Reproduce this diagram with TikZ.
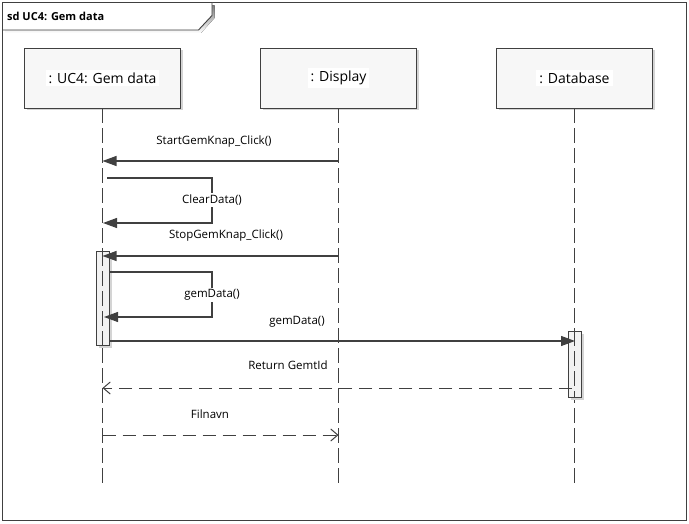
\documentclass[tikz,border=0pt]{standalone}
\usepackage{fontspec}
\setmainfont{Open Sans}
\usetikzlibrary{arrows.meta,shadows}
\definecolor{ink}{HTML}{404040}
\definecolor{shade}{HTML}{D4D4D4}
\tikzset{
  frameline/.style={draw=ink, line width=0.9pt},
  headbox/.style={draw=ink, line width=0.8pt, fill=black!3, minimum width=156pt, minimum height=60pt,
    inner sep=0pt, font=\fontsize{14}{16}\selectfont,
    drop shadow={shadow xshift=2.5pt, shadow yshift=-2.5pt, fill=shade, opacity=1}},
  lifeline/.style={draw=black!75, line width=0.7pt, dash pattern=on 15pt off 5pt},
  actbox/.style={draw=ink, line width=0.8pt, fill=black!5, minimum width=13pt, inner sep=0pt,
    drop shadow={shadow xshift=2.5pt, shadow yshift=-2.5pt, fill=shade, opacity=1}},
  callmsg/.style={draw=ink, line width=1.2pt, -{Triangle[length=14pt,width=10pt]}},
  retmsg/.style={draw=ink, line width=1pt, dash pattern=on 13pt off 7pt, -{Straight Barb[length=7pt,width=12pt]}},
  msglabel/.style={font=\fontsize{11.5}{13}\selectfont, inner sep=1pt},
  selflabel/.style={font=\fontsize{11.5}{13}\selectfont, fill=white, inner sep=1.5pt},
}
\begin{document}
\begin{tikzpicture}[x=1pt,y=-1pt]
\useasboundingbox (0,0) rectangle (689,524);
\fill[white] (0,0) rectangle (689,524);

% outer frame and its name tab
\draw[frameline] (2.5,2.5) rectangle (686,520);
\fill[shade] (5.5,5.5) -- (214.5,5.5) -- (214.5,18) -- (201,33) -- (5.5,33) -- cycle;
\draw[frameline, fill=white] (2.5,2.5) -- (212,2.5) -- (212,15.5) -- (198.5,30) -- (2.5,30) -- cycle;
\node[anchor=west, font=\bfseries\fontsize{11}{13}\selectfont, inner sep=0pt] (title) at (7,16) {sd UC4: Gem data};

% lifeline heads
\node[headbox] (uc)  at (102.5,78) {\colorbox{white}{: UC4: Gem data}};
\node[headbox] (dsp) at (338.5,78) {\colorbox{white}{: Display}};
\node[headbox] (db)  at (574.5,78) {\colorbox{white}{: Database}};

% lifeline ends
\coordinate (ucEnd)  at (102.5,484);
\coordinate (dspEnd) at (338.5,484);
\coordinate (dbEnd)  at (574.5,484);

\draw[lifeline] (uc.south)  -- (ucEnd);
\draw[lifeline] (dsp.south) -- (dspEnd);
\draw[lifeline] (db.south)  -- (dbEnd);

% activation bars
\node[actbox, minimum height=94pt] (actUc) at (102.5,298) {};
\node[actbox, minimum height=66pt] (actDb) at (574.5,364) {};
\draw[lifeline] (102.5,251) -- (102.5,345);
\draw[lifeline] (574.5,331) -- (574.5,397);

% message end points
\coordinate (m1a) at (338.5,161);  \coordinate (m1b) at (102.5,161);
\coordinate (s1a) at (107,178);    \coordinate (s1b) at (212,178);
\coordinate (s1c) at (212,223);    \coordinate (s1d) at (103,223);
\coordinate (m2a) at (338.5,256);  \coordinate (m2b) at (102.5,256);
\coordinate (s2a) at (109,272);    \coordinate (s2b) at (212,272);
\coordinate (s2c) at (212,317);    \coordinate (s2d) at (104,317);
\coordinate (m3a) at (109,341);    \coordinate (m3b) at (575,341);
\coordinate (r1a) at (572,388);    \coordinate (r1b) at (102.5,388);
\coordinate (r2a) at (102.5,435);  \coordinate (r2b) at (338.5,435);

% messages
\draw[callmsg] (m1a) -- (m1b);
\node[msglabel] (l1) at (214,142) {StartGemKnap\_Click()};

\draw[callmsg] (s1a) -- (s1b) -- (s1c) -- (s1d);
\node[selflabel] (l2) at (212,200) {ClearData()};

\draw[callmsg] (m2a) -- (m2b);
\node[msglabel] (l3) at (226,236) {StopGemKnap\_Click()};

\draw[callmsg] (s2a) -- (s2b) -- (s2c) -- (s2d);
\node[selflabel] (l4) at (212,295) {gemData()};

\draw[callmsg] (m3a) -- (m3b);
\node[msglabel] (l5) at (297,322) {gemData()};

\draw[retmsg] (r1a) -- (r1b);
\node[msglabel] (l6) at (288,365) {Return GemtId};

\draw[retmsg] (r2a) -- (r2b);
\node[msglabel] (l7) at (210,414) {Filnavn};
\end{tikzpicture}
\end{document}
